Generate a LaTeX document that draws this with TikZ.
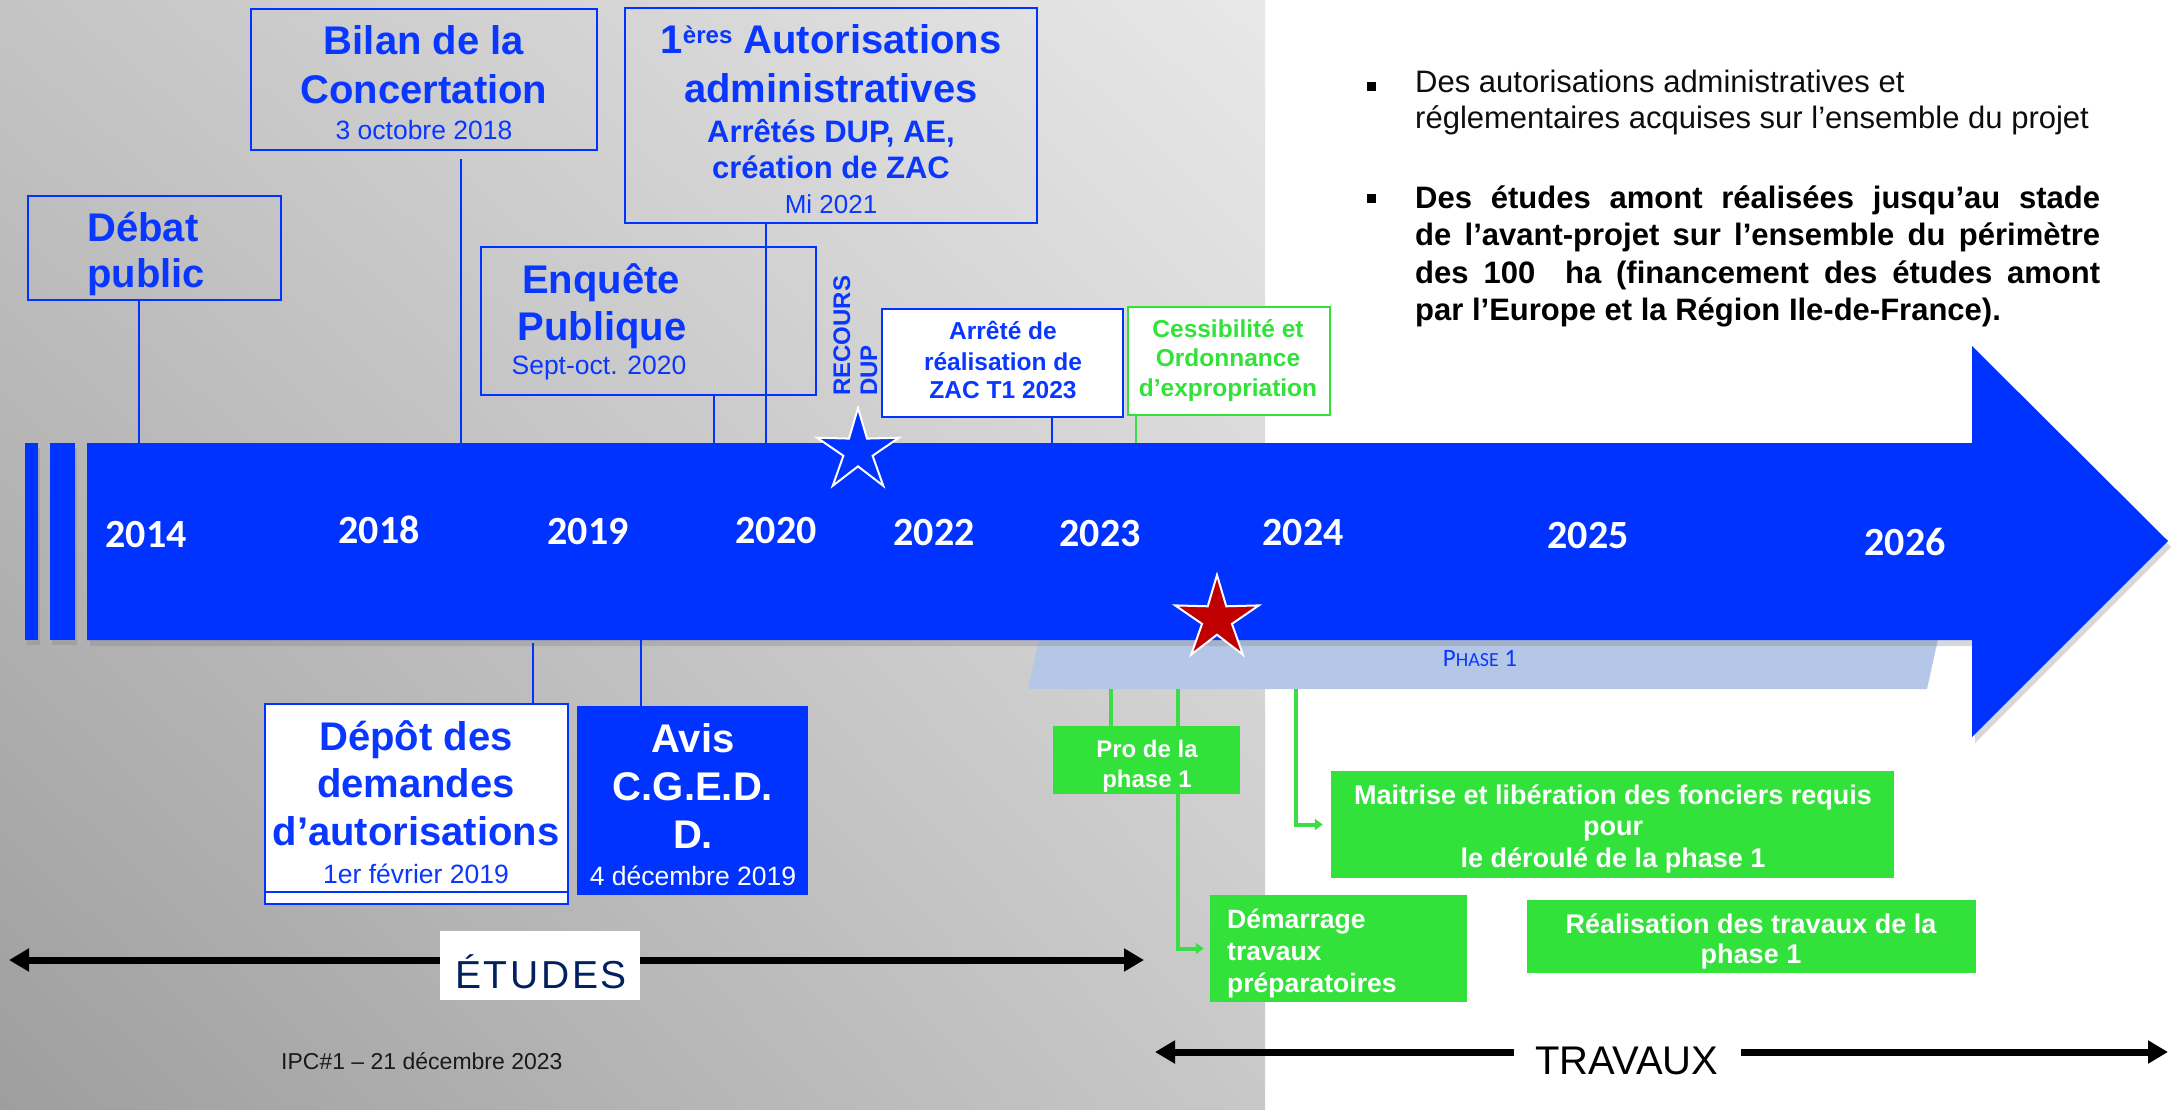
\documentclass[tikz,border=0pt]{standalone}
\usepackage{fontspec}
\setmainfont{Liberation Sans}
\newfontfamily\calfont{Carlito}
\newfontfamily\spacedfont[LetterSpace=7]{Liberation Sans}
\usetikzlibrary{arrows.meta,shapes.geometric,shadows,shadings}
\definecolor{barblue}{RGB}{0,51,255}
\definecolor{txtblue}{RGB}{10,55,255}
\definecolor{grn}{RGB}{50,225,58}
\definecolor{grnline}{RGB}{60,220,70}
\definecolor{phaseblue}{RGB}{180,199,231}
\definecolor{starred}{RGB}{192,0,0}
\definecolor{navy}{RGB}{0,32,96}
\definecolor{bgTL}{RGB}{196,196,196}
\definecolor{bgTR}{RGB}{232,232,232}
\definecolor{bgBL}{RGB}{158,158,158}
\definecolor{bgBR}{RGB}{200,200,200}
\newcommand{\fsb}[1]{\fontsize{#1}{#1}\selectfont\bfseries}
\newcommand{\fsn}[1]{\fontsize{#1}{#1}\selectfont}
\tikzset{
  bline/.style={draw=barblue, line width=2pt},
  gline/.style={draw=grnline, line width=4pt},
  bluebox/.style={draw=barblue, line width=2pt, inner sep=0},
  greenbox/.style={fill=grn, inner sep=0},
  txt/.style={inner sep=0, anchor=base},
  yearlbl/.style={txt, text=white, font=\calfont\fsb{40}},
  bigblue/.style={txt, text=txtblue, font=\fsb{40}},
  bigwhite/.style={txt, text=white, font=\fsb{40}},
  starshape/.style={star, star points=5, star point ratio=2.8, inner sep=0, draw=white, line width=2pt},
  bigarrow/.style={line width=7pt, {Triangle[length=20pt,width=22pt]}-{Triangle[length=20pt,width=22pt]}},
  greentip/.style={-{Triangle[length=8pt,width=11pt]}},
}
\begin{document}
\begin{tikzpicture}[x=1pt,y=-1pt]
\useasboundingbox (0,0) rectangle (2172,1109);
\fill[white] (0,0) rectangle (2172,1109);
\shade[shading=bilinear interpolation, upper left=bgTL, upper right=bgTR, lower left=bgBL, lower right=bgBR] (0,0) rectangle (1265,1109);

% timeline bar
\fill[barblue, drop shadow={shadow xshift=2pt, shadow yshift=-5pt, opacity=.3}] (25,443) rectangle (38,640);
\fill[barblue, drop shadow={shadow xshift=2pt, shadow yshift=-5pt, opacity=.3}] (50,443) rectangle (75,640);
\fill[phaseblue] (1041,630) -- (1940,630) -- (1927,689) -- (1028,689) -- cycle;
\fill[barblue, drop shadow={shadow xshift=3pt, shadow yshift=-6pt, opacity=.3}]
  (87,443) -- (1972,443) -- (1972,346) -- (2168,541) -- (1972,737) -- (1972,640) -- (87,640) -- cycle;

% years
\node[yearlbl] (y2014) at (146,547) {2014};
\node[yearlbl] (y2018) at (379,543) {2018};
\node[yearlbl] (y2019) at (588,544) {2019};
\node[yearlbl] (y2020) at (776,543) {2020};
\node[yearlbl] (y2022) at (934,545) {2022};
\node[yearlbl] (y2023) at (1100,546) {2023};
\node[yearlbl] (y2024) at (1303,545) {2024};
\node[yearlbl] (y2025) at (1588,548) {2025};
\node[yearlbl] (y2026) at (1905,555) {2026};
\node[txt, text=txtblue, font=\calfont\fsn{25}] (phase) at (1480,666) {P{\fsn{20}HASE} 1};

% coordinates on the bar
\coordinate (c1) at (138.5,443);
\coordinate (c2) at (461,443);
\coordinate (c3) at (714,443);
\coordinate (c4) at (766,443);
\coordinate (c5) at (1052,443);
\coordinate (c6) at (1136,443);
\coordinate (d1) at (533,643);
\coordinate (d2) at (641,640);
\coordinate (g1) at (1111,689);
\coordinate (g2) at (1178,689);
\coordinate (g3) at (1296,689);

% top boxes
\node[bluebox, minimum width=253pt, minimum height=104pt] (debat) at (154.5,248) {};
\node[bigblue, anchor=base west] (debatA) at (87,241) {Débat};
\node[bigblue, anchor=base west] (debatB) at (87,287) {public};

\node[bluebox, minimum width=346pt, minimum height=141pt] (bilan) at (424,79.5) {};
\node[bigblue] (bilanA) at (424,54) {Bilan de la};
\node[bigblue] (bilanB) at (424,103) {Concertation};
\node[txt, text=txtblue, font=\fsn{26.5}] (bilanC) at (424,139) {3 octobre 2018};

\node[bluebox, minimum width=412pt, minimum height=215pt] (autor) at (831,115.5) {};
\node[bigblue] (autorA) at (831,53) {1{\fsb{24}\raisebox{10pt}{ères}} Autorisations};
\node[bigblue] (autorB) at (831,102) {administratives};
\node[txt, text=txtblue, font=\fsb{31}] (autorC) at (831,142) {Arrêtés DUP, AE,};
\node[txt, text=txtblue, font=\fsb{31}] (autorD) at (831,178) {création de ZAC};
\node[txt, text=txtblue, font=\fsn{26}] (autorE) at (831,213) {Mi 2021};

\node[bluebox, minimum width=335pt, minimum height=148pt] (enq) at (648.5,321) {};
\node[bigblue] (enqA) at (601,293) {Enquête};
\node[bigblue] (enqB) at (602,340) {Publique};
\node[txt, text=txtblue, font=\fsn{26.5}] (enqC) at (599,374) {Sept-oct. 2020};

\node[txt, anchor=base west, rotate=90, text=txtblue, font=\fsb{24}] (recA) at (850,396) {RECOURS};
\node[txt, anchor=base west, rotate=90, text=txtblue, font=\fsb{24}] (recB) at (877,396) {DUP};

\node[bluebox, fill=white, minimum width=241pt, minimum height=108pt] (arrete) at (1002.5,363) {};
\node[txt, text=txtblue, font=\fsb{24.5}] (arrA) at (1003,339) {Arrêté de};
\node[txt, text=txtblue, font=\fsb{24.5}] (arrB) at (1003,370) {réalisation de};
\node[txt, text=txtblue, font=\fsb{24.5}] (arrC) at (1003,398) {ZAC T1 2023};

\node[draw=grn, line width=2pt, fill=white, inner sep=0, minimum width=202pt, minimum height=108pt] (cess) at (1229,361) {};
\node[txt, text=grn, font=\fsb{24.5}] (cessA) at (1228,337) {Cessibilité et};
\node[txt, text=grn, font=\fsb{24.5}] (cessB) at (1228,366) {Ordonnance};
\node[txt, text=grn, font=\fsb{24.5}] (cessC) at (1228,396) {d’expropriation};

% top connectors
\draw[bline] (debat.south -| c1) -- (c1);
\draw[bline] ([yshift=-8pt]bilan.south -| c2) -- (c2);
\draw[bline] (enq.south -| c3) -- (c3);
\draw[bline] (autor.south -| c4) -- (c4);
\draw[bline] (arrete.south -| c5) -- (c5);
\draw[draw=grnline, line width=2pt] (cess.south -| c6) -- (c6);

% bottom boxes
\node[bluebox, line width=2.5pt, fill=white, minimum width=303pt, minimum height=200pt] (depot) at (416.5,804) {};
\draw[barblue, line width=2pt] ([yshift=-88pt]depot.west) -- ([yshift=-88pt]depot.east);
\node[bigblue] (depA) at (416,750) {Dépôt des};
\node[bigblue] (depB) at (416,797) {demandes};
\node[bigblue] (depC) at (416,845) {d’autorisations};
\node[txt, text=txtblue, font=\fsn{26.5}] (depD) at (416,883) {1er février 2019};

\node[fill=barblue, inner sep=0, minimum width=231pt, minimum height=189pt] (avis) at (692.5,800.5) {};
\node[bigwhite] (avisA) at (693,752) {Avis};
\node[bigwhite] (avisB) at (693,800) {C.G.E.D.};
\node[bigwhite] (avisC) at (693,848) {D.};
\node[txt, text=white, font=\fsn{26.5}] (avisD) at (693,885) {4 décembre 2019};

\draw[bline] (d1) -- (d1 |- depot.north);
\draw[bline] (d2) -- (d2 |- avis.north);

% green boxes
\node[greenbox, minimum width=257pt, minimum height=107pt] (demar) at (1338.5,948.5) {};
\node[txt, anchor=base west, text=white, font=\fsb{26.5}] (demA) at (1227,928) {Démarrage};
\node[txt, anchor=base west, text=white, font=\fsb{26.5}] (demB) at (1227,960) {travaux};
\node[txt, anchor=base west, text=white, font=\fsb{26.5}] (demC) at (1227,992) {préparatoires};

\node[greenbox, minimum width=563pt, minimum height=107pt] (mait) at (1612.5,824.5) {};
\node[txt, text=white, font=\fsb{27}] (maitA) at (1613,804) {Maitrise et libération des fonciers requis};
\node[txt, text=white, font=\fsb{27}] (maitB) at (1613,835) {pour};
\node[txt, text=white, font=\fsb{27}] (maitC) at (1613,867) {le déroulé de la phase 1};

\node[greenbox, minimum width=449pt, minimum height=73pt] (real) at (1751.5,936.5) {};
\node[txt, text=white, font=\fsb{27}] (realA) at (1751,933) {Réalisation des travaux de la};
\node[txt, text=white, font=\fsb{27}] (realB) at (1751,963) {phase 1};

\draw[gline, greentip, shorten >=6pt] (g2) |- (demar.west);
\draw[gline, greentip, shorten >=8pt] (g3) |- (mait.west);

\node[greenbox, minimum width=187pt, minimum height=68pt] (pro) at (1146.5,760) {};
\node[txt, text=white, font=\fsb{24}] (proA) at (1147,757) {Pro de la};
\node[txt, text=white, font=\fsb{24}] (proB) at (1147,787) {phase 1};
\draw[gline] (g1) -- (g1 |- pro.north);

% ETUDES / TRAVAUX
\coordinate (el) at (9,960);
\coordinate (er) at (1144,960);
\draw[bigarrow] (el) -- (er);
\node[fill=white, inner sep=0, minimum width=200pt, minimum height=69pt] (etbox) at (540,965.5) {};
\node[txt, text=navy, font=\spacedfont\fsn{39}] (etudes) at (541,988) {ÉTUDES};

\coordinate (tl) at (1155,1052);
\coordinate (tr) at (2168,1052);
\draw[bigarrow] (tl) -- (tr);
\node[txt, fill=white, inner xsep=22pt, inner ysep=10pt, font=\fsn{40}, text=black] (trav) at (1627,1074) {TRAVAUX};

\node[txt, anchor=base west, font=\fsn{23}, text=black!90] (ipc) at (281,1069) {IPC\#1 – 21 décembre 2023};

% right text
\node[fill=black, inner sep=0, minimum width=9pt, minimum height=9pt] (bul1) at (1371,86) {};
\node[txt, anchor=base west, font=\fsn{31}, text=black!95] (r1a) at (1415,92) {Des autorisations administratives et};
\node[txt, anchor=base west, font=\fsn{31}, text=black!95] (r1b) at (1415,128) {réglementaires acquises sur l’ensemble du projet};
\node[fill=black, inner sep=0, minimum width=9pt, minimum height=9pt] (bul2) at (1371,198) {};
\node[txt, anchor=base west, font=\fsb{31}, text=black] (r2a) at (1415,208) {\makebox[685pt][s]{Des études amont réalisées jusqu’au stade}};
\node[txt, anchor=base west, font=\fsb{31}, text=black] (r2b) at (1415,245) {\makebox[685pt][s]{de l’avant-projet sur l’ensemble du périmètre}};
\node[txt, anchor=base west, font=\fsb{31}, text=black] (r2c) at (1415,283) {\makebox[685pt][s]{des 100\ \ ha (financement des études amont}};
\node[txt, anchor=base west, font=\fsb{31}, text=black] (r2d) at (1415,320) {par l’Europe et la Région Ile-de-France).};

% stars
\node[starshape, fill=barblue, minimum size=86pt] (bstar) at (858,451) {};
\node[starshape, fill=starred, minimum size=88pt] (rstar) at (1217,619) {};
\end{tikzpicture}
\end{document}
